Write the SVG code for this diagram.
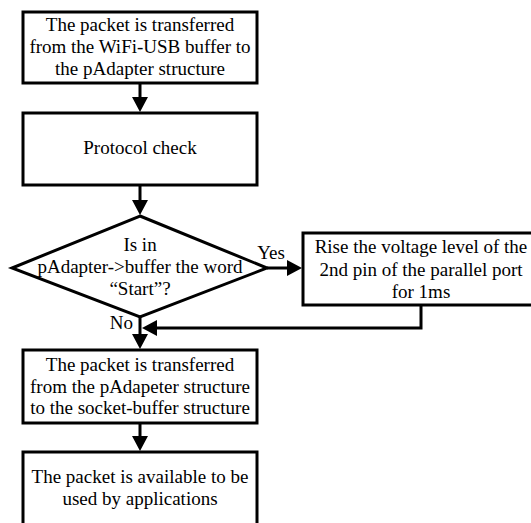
<svg xmlns="http://www.w3.org/2000/svg" width="531" height="523" viewBox="0 0 531 523">
  <style>
    .box { fill: #fff; stroke: #000; stroke-width: 3; }
    .line { fill: none; stroke: #000; stroke-width: 3; }
    .head { fill: #000; }
    text { font-family: "Liberation Serif", "Times New Roman", serif; font-size: 19px; fill: #000; text-anchor: middle; }
  </style>
  <rect width="531" height="523" fill="#fff"/>

  <g id="transfer-in">
    <rect class="box" x="23" y="12" width="234" height="71"/>
    <text x="140" y="31">The packet is transferred</text>
    <text x="140" y="53">from the WiFi-USB buffer to</text>
    <text x="140" y="75">the pAdapter structure</text>
  </g>

  <g id="protocol-check">
    <rect class="box" x="23" y="113" width="234" height="72"/>
    <text x="140" y="154">Protocol check</text>
  </g>

  <g id="start-decision">
    <polygon class="box" points="140,216 267,268 140,317 12,268"/>
    <text x="140" y="251">Is in</text>
    <text x="140" y="273">pAdapter-&gt;buffer the word</text>
    <text x="140" y="295">“Start”?</text>
  </g>

  <g id="raise-voltage">
    <rect class="box" x="303" y="233" width="236" height="72"/>
    <text x="421" y="253">Rise the voltage level of the</text>
    <text x="421" y="276">2nd pin of the parallel port</text>
    <text x="421" y="298">for 1ms</text>
  </g>

  <g id="transfer-out">
    <rect class="box" x="23" y="350" width="234" height="73"/>
    <text x="140" y="371">The packet is transferred</text>
    <text x="140" y="393">from the pAdapeter structure</text>
    <text x="140" y="414">to the socket-buffer structure</text>
  </g>

  <g id="available">
    <rect class="box" x="23" y="452" width="234" height="90"/>
    <text x="140" y="483">The packet is available to be</text>
    <text x="140" y="505">used by applications</text>
  </g>

  <g id="connectors">
    <line class="line" x1="140" y1="83" x2="140" y2="98"/>
    <polygon class="head" points="132,97 148,97 140,112"/>

    <line class="line" x1="140" y1="185" x2="140" y2="201"/>
    <polygon class="head" points="132,200 148,200 140,215"/>

    <line class="line" x1="267" y1="268" x2="288" y2="268"/>
    <polygon class="head" points="287,260 287,276 302,268"/>
    <text x="271" y="259">Yes</text>

    <polyline class="line" points="421,305 421,328 156,328"/>
    <polygon class="head" points="157,320 157,336 142,328"/>

    <line class="line" x1="140" y1="317" x2="140" y2="335"/>
    <polygon class="head" points="132,334 148,334 140,349"/>
    <text x="133" y="329" style="text-anchor:end">No</text>

    <line class="line" x1="140" y1="423" x2="140" y2="437"/>
    <polygon class="head" points="132,436 148,436 140,451"/>
  </g>
</svg>
